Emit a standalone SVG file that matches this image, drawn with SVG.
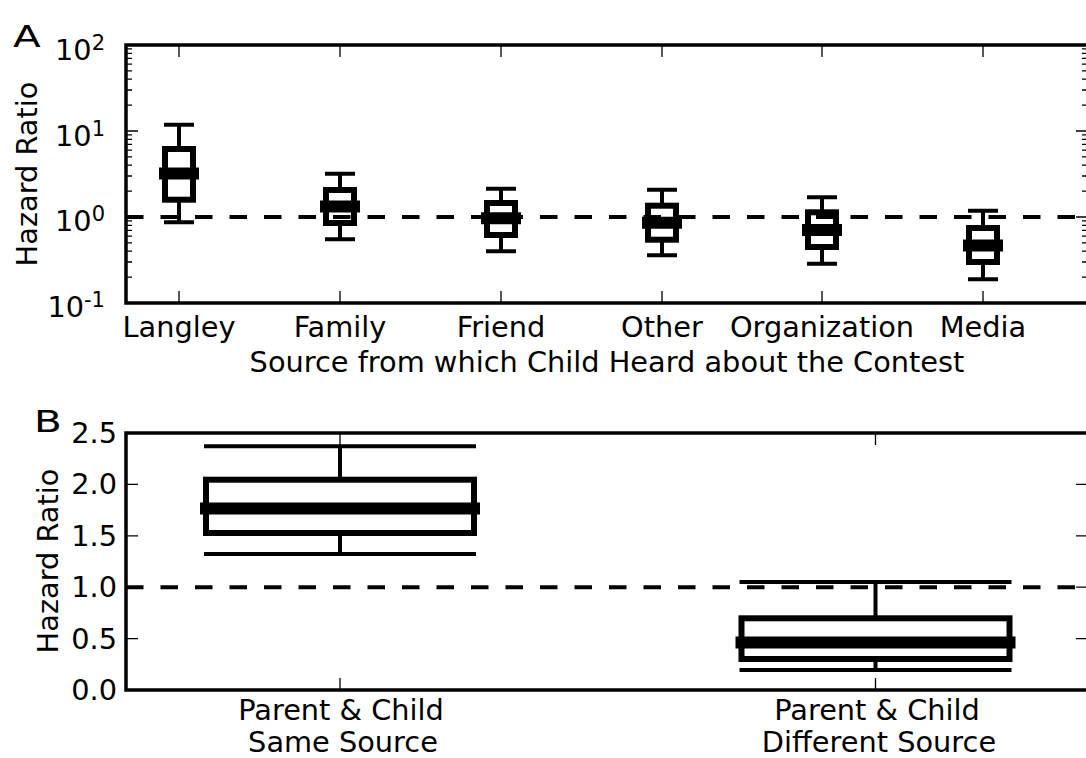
<svg xmlns="http://www.w3.org/2000/svg" width="1086" height="758" viewBox="0 0 1086 758">
<style>
text{font-family:"DejaVu Sans","Liberation Sans",sans-serif;fill:#000}
.t{font-size:28.8px}
.sup{font-size:21px}
.lab{font-size:30px}
.spine{fill:none;stroke:#000;stroke-width:3.5}
.tick{fill:none;stroke:#000;stroke-width:1.3}
.dash{fill:none;stroke:#000;stroke-width:4;stroke-dasharray:17.5 17}
.wh{fill:none;stroke:#000;stroke-width:4}
.box{fill:none;stroke:#000;stroke-width:6}
.med{fill:none;stroke:#000;stroke-width:12}
</style>
<rect width="1086" height="758" fill="#fff"/>

<!-- Panel A -->
<g id="panelA">
  <text class="lab" transform="translate(13,47) scale(1.35,1)">A</text>
  <g id="axesA-ticks">
    <path class="tick" d="M126 45h12M126 131h12M126 217h12M126 303h12M1088 45h-12M1088 131h-12M1088 217h-12M1088 303h-12"/>
    <path class="tick" d="M126 277.1h6M126 262h6M126 251.2h6M126 242.9h6M126 236.1h6M126 230.3h6M126 225.3h6M126 220.9h6M126 191.1h6M126 176h6M126 165.2h6M126 156.9h6M126 150.1h6M126 144.3h6M126 139.3h6M126 134.9h6M126 105.1h6M126 90h6M126 79.2h6M126 70.9h6M126 64.1h6M126 58.3h6M126 53.3h6M126 48.9h6"/>
    <path class="tick" d="M1088 277.1h-6M1088 262h-6M1088 251.2h-6M1088 242.9h-6M1088 236.1h-6M1088 230.3h-6M1088 225.3h-6M1088 220.9h-6M1088 191.1h-6M1088 176h-6M1088 165.2h-6M1088 156.9h-6M1088 150.1h-6M1088 144.3h-6M1088 139.3h-6M1088 134.9h-6M1088 105.1h-6M1088 90h-6M1088 79.2h-6M1088 70.9h-6M1088 64.1h-6M1088 58.3h-6M1088 53.3h-6M1088 48.9h-6"/>
    <path class="tick" d="M179 45v12M340 45v12M501 45v12M662 45v12M822 45v12M983 45v12M179 303v-12M340 303v-12M501 303v-12M662 303v-12M822 303v-12M983 303v-12"/>
  </g>
  <g id="axesA-yticklabels" class="t">
    <text x="105" y="60" text-anchor="end">10<tspan class="sup" dy="-10">2</tspan></text>
    <text x="105" y="145.5" text-anchor="end">10<tspan class="sup" dy="-10">1</tspan></text>
    <text x="105" y="231" text-anchor="end">10<tspan class="sup" dy="-10">0</tspan></text>
    <text x="105" y="317" text-anchor="end">10<tspan class="sup" dy="-10">-1</tspan></text>
  </g>
  <text class="t" transform="translate(37,174) rotate(-90)" text-anchor="middle">Hazard Ratio</text>
  <g id="axesA-xticklabels" class="t" text-anchor="middle">
    <text x="179" y="337">Langley</text>
    <text x="340" y="337">Family</text>
    <text x="501" y="337">Friend</text>
    <text x="662" y="337">Other</text>
    <text x="822" y="337">Organization</text>
    <text x="983" y="337">Media</text>
  </g>
  <text class="t" x="607" y="372" text-anchor="middle">Source from which Child Heard about the Contest</text>
  <path class="dash" d="M126 217H1088"/>
  <g id="box-langley">
    <path class="wh" d="M164 124.7h30M164 222.3h30M179 124.7V149M179 199.7V222.3"/>
    <rect class="box" x="165" y="149" width="28" height="50.7"/>
    <path class="med" d="M159 173.5h40"/>
  </g>
  <g id="box-family">
    <path class="wh" d="M325 173.7h30M325 239.3h30M340 173.7V190M340 223V239.3"/>
    <rect class="box" x="326" y="190" width="28" height="33"/>
    <path class="med" d="M320 206.5h40"/>
  </g>
  <g id="box-friend">
    <path class="wh" d="M486 188.7h30M486 251.3h30M501 188.7V203M501 235V251.3"/>
    <rect class="box" x="487" y="203" width="28" height="32"/>
    <path class="med" d="M481 218.3h40"/>
  </g>
  <g id="box-other">
    <path class="wh" d="M647 189.7h30M647 255.3h30M662 189.7V205.7M662 239.7V255.3"/>
    <rect class="box" x="648" y="205.7" width="28" height="34"/>
    <path class="med" d="M642 222.7h40"/>
  </g>
  <g id="box-organization">
    <path class="wh" d="M807 197.2h30M807 263.7h30M822 197.2V212.3M822 247V263.7"/>
    <rect class="box" x="808" y="212.3" width="28" height="34.7"/>
    <path class="med" d="M802 230h40"/>
  </g>
  <g id="box-media">
    <path class="wh" d="M968 210.8h30M968 279.3h30M983 210.8V228M983 262V279.3"/>
    <rect class="box" x="969" y="228" width="28" height="34"/>
    <path class="med" d="M963 245.5h40"/>
  </g>
  <rect class="spine" x="126" y="45" width="962" height="258"/>
</g>

<!-- Panel B -->
<g id="panelB">
  <text class="lab" transform="translate(34,432) scale(1.35,1)">B</text>
  <g id="axesB-ticks">
    <path class="tick" d="M126 638.6h12M126 587.2h12M126 535.8h12M126 484.4h12M1088 638.6h-12M1088 587.2h-12M1088 535.8h-12M1088 484.4h-12"/>
    <path class="tick" d="M340 433v12M875.5 433v12M340 690v-12M875.5 690v-12"/>
  </g>
  <g id="axesB-yticklabels" class="t" text-anchor="end">
    <text x="117" y="443">2.5</text>
    <text x="117" y="494.4">2.0</text>
    <text x="117" y="545.8">1.5</text>
    <text x="117" y="597.2">1.0</text>
    <text x="117" y="648.6">0.5</text>
    <text x="117" y="700">0.0</text>
  </g>
  <text class="t" transform="translate(58,561) rotate(-90)" text-anchor="middle">Hazard Ratio</text>
  <g id="axesB-xticklabels" class="t" text-anchor="middle">
    <text x="341" y="720">Parent &amp; Child</text>
    <text x="343" y="752">Same Source</text>
    <text x="877" y="720">Parent &amp; Child</text>
    <text x="879" y="752">Different Source</text>
  </g>
  <path class="dash" d="M126 587.2H1088"/>
  <g id="box-same">
    <path class="wh" d="M204 446.3h272M204 554h272M340 446.3V479.7M340 533V554"/>
    <rect class="box" x="206" y="479.7" width="268" height="53.3"/>
    <path class="med" d="M200 508.5h280"/>
  </g>
  <g id="box-different">
    <path class="wh" d="M739.5 582h272M739.5 670h272M875.5 582V618.3M875.5 659V670"/>
    <rect class="box" x="741.5" y="618.3" width="268" height="40.7"/>
    <path class="med" d="M735.5 642.5h280"/>
  </g>
  <rect class="spine" x="126" y="433" width="962" height="257"/>
</g>
</svg>
